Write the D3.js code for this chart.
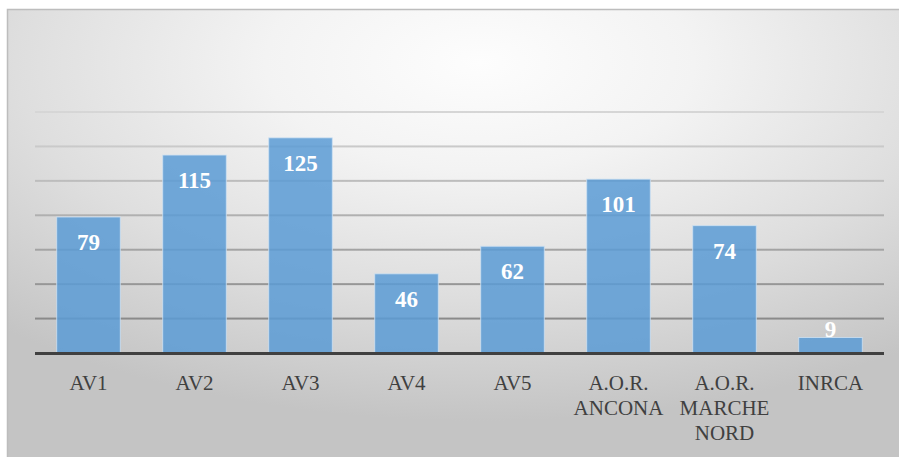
<!DOCTYPE html>
<html>
<head>
<meta charset="utf-8">
<script src="https://cdn.jsdelivr.net/npm/d3@7/dist/d3.min.js"></script>
<style>
  html, body { margin: 0; padding: 0; background: #ffffff; }
  svg { display: block; }
</style>
</head>
<body>
<svg id="chart" width="899" height="457"></svg>
<script>
// Categories (multi-line labels split on "\n") and their counts
const categories = ["AV1", "AV2", "AV3", "AV4", "AV5", "A.O.R.\nANCONA", "A.O.R.\nMARCHE\nNORD", "INRCA"];
const values = [79, 115, 125, 46, 62, 101, 74, 9];
const gridTicks = [20, 40, 60, 80, 100, 120, 140];

const W = 899, H = 457;
const svg = d3.select("#chart");

const x = d3.scaleBand()
  .domain(categories)
  .range([35.5, 883.5])
  .paddingInner(0.4)
  .paddingOuter(0.2);

const y = d3.scaleLinear()
  .domain([0, 140])
  .range([353, 112]);

// Background panel with a soft radial light
const defs = svg.append("defs");
const grad = defs.append("radialGradient")
  .attr("id", "bg")
  .attr("cx", "0.53").attr("cy", "0.12")
  .attr("r", "0.8");
grad.append("stop").attr("offset", "0").attr("stop-color", "#fdfdfd");
grad.append("stop").attr("offset", "0.3").attr("stop-color", "#f3f3f3");
grad.append("stop").attr("offset", "0.65").attr("stop-color", "#dedede");
grad.append("stop").attr("offset", "1").attr("stop-color", "#c4c4c4");

// Gridlines fade out towards the top of the plot
const gridGrad = defs.append("linearGradient")
  .attr("id", "gridFade")
  .attr("gradientUnits", "userSpaceOnUse")
  .attr("x1", 0).attr("x2", 0)
  .attr("y1", y(140)).attr("y2", y(20));
gridGrad.append("stop").attr("offset", "0").attr("stop-color", "#d6d6d6");
gridGrad.append("stop").attr("offset", "1").attr("stop-color", "#8a8a8a");

svg.append("rect")
  .attr("x", 7).attr("y", 9)
  .attr("width", W - 7).attr("height", H - 9)
  .attr("fill", "url(#bg)");
// Top and left frame edges
svg.append("path")
  .attr("d", `M7.5,${H} V9.5 H${W}`)
  .attr("fill", "none")
  .attr("stroke", "#bdbdbd")
  .attr("stroke-width", 1.5);

// Horizontal gridlines
svg.append("g")
  .selectAll("rect")
  .data(gridTicks)
  .join("rect")
  .attr("x", 35).attr("width", 849)
  .attr("y", d => y(d) - 1).attr("height", 2)
  .attr("fill", "url(#gridFade)");

// Bars
svg.append("g")
  .selectAll("rect")
  .data(values)
  .join("rect")
  .attr("x", (d, i) => x(categories[i]))
  .attr("y", d => y(d))
  .attr("width", x.bandwidth())
  .attr("height", d => y(0) - y(d))
  .attr("fill", "#5b9bd5")
  .attr("fill-opacity", 0.85)
  .attr("stroke", "#cfe2f3")
  .attr("stroke-opacity", 0.8)
  .attr("stroke-width", 1);

// Axis baseline
svg.append("line")
  .attr("x1", 35).attr("x2", 884)
  .attr("y1", y(0) + 0.5).attr("y2", y(0) + 0.5)
  .attr("stroke", "#404040")
  .attr("stroke-width", 3);

// Value labels, inside the bar end (kept off the axis for short bars)
svg.append("g")
  .selectAll("text")
  .data(values)
  .join("text")
  .attr("x", (d, i) => x(categories[i]) + x.bandwidth() / 2)
  .attr("y", d => Math.min(y(d) + 33, y(0) - 16))
  .attr("text-anchor", "middle")
  .attr("font-family", "'Liberation Serif', 'DejaVu Serif', serif")
  .attr("font-weight", "bold")
  .attr("font-size", 23)
  .attr("fill", "#ffffff")
  .text(d => d);

// Category labels
const labels = svg.append("g")
  .selectAll("text")
  .data(categories)
  .join("text")
  .attr("x", d => x(d) + x.bandwidth() / 2)
  .attr("y", 390)
  .attr("text-anchor", "middle")
  .attr("font-family", "'Liberation Serif', 'DejaVu Serif', serif")
  .attr("font-size", 21)
  .attr("fill", "#404040");

labels.selectAll("tspan")
  .data(d => d.split("\n").map(t => ({ t, cx: x(d) + x.bandwidth() / 2 })))
  .join("tspan")
  .attr("x", d => d.cx)
  .attr("dy", (d, i) => i === 0 ? 0 : 25)
  .text(d => d.t);
</script>
</body>
</html>
